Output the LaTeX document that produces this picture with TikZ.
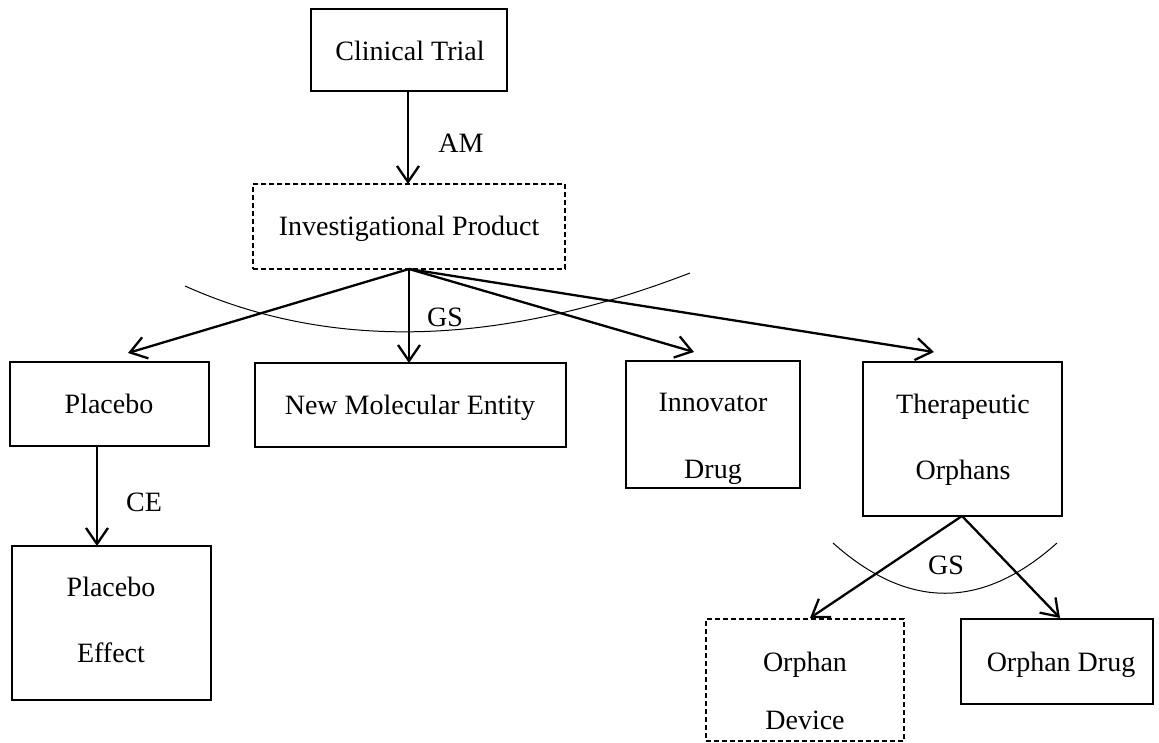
\documentclass[tikz,border=0pt]{standalone}
\usepackage{fontspec}
\setmainfont{Liberation Serif}
\usetikzlibrary{arrows.meta,fit}
\begin{document}
\begin{tikzpicture}[x=1pt,y=-1pt,
  box/.style={draw, line width=1.1pt, inner sep=0pt},
  dbox/.style={box, dash pattern=on 5pt off 3pt},
  txt/.style={anchor=base, inner sep=0pt, font=\fontsize{28}{34}\selectfont},
  link/.style={line width=2.3pt, -{Straight Barb[length=16pt,width=22pt]}},
  arcline/.style={line width=1pt}]
\useasboundingbox (0,0) rectangle (1159,742);

% boxes
\node[box,  fit={(311,9) (507,91)}]    (ct)  {};
\node[dbox, fit={(253,184) (565,269)}] (ip)  {};
\node[box,  fit={(10,362) (209,446)}]  (pl)  {};
\node[box,  fit={(255,363) (566,447)}] (nme) {};
\node[box,  fit={(626,361) (800,488)}] (inn) {};
\node[box,  fit={(863,362) (1062,516)}] (tho) {};
\node[box,  fit={(12,546) (211,700)}]  (pe)  {};
\node[dbox, fit={(706,619) (904,741)}] (od)  {};
\node[box,  fit={(961,619) (1153,704)}] (odr) {};

% box texts
\node[txt] (ct-t)   at (410,60)  {Clinical Trial};
\node[txt] (ip-t)   at (409,235) {Investigational Product};
\node[txt] (pl-t)   at (109,413) {Placebo};
\node[txt] (nme-t)  at (410,414) {New Molecular Entity};
\node[txt] (inn-t1) at (713,411) {Innovator};
\node[txt] (inn-t2) at (713,478) {Drug};
\node[txt] (tho-t1) at (963,413) {Therapeutic};
\node[txt] (tho-t2) at (963,479) {Orphans};
\node[txt] (pe-t1)  at (111,596) {Placebo};
\node[txt] (pe-t2)  at (111,662) {Effect};
\node[txt] (od-t1)  at (805,671) {Orphan};
\node[txt] (od-t2)  at (805,729) {Device};
\node[txt] (odr-t)  at (1061,671) {Orphan Drug};

% connector end points
\coordinate (ct-out)  at (408,91);
\coordinate (ip-in)   at (408,184);
\coordinate (ip-out)  at (409,269);
\coordinate (pl-in)   at (128,353);
\coordinate (nme-in)  at (409,363);
\coordinate (inn-in)  at (694,352);
\coordinate (tho-in)  at (934,352);
\coordinate (pl-out)  at (97,446);
\coordinate (pe-in)   at (97,546);
\coordinate (tho-out) at (962,516);
\coordinate (od-in)   at (810,618);
\coordinate (odr-in)  at (1060,618);

% connectors
\draw[link] (ct-out) -- (ip-in);
\draw[link] (ip-out) -- (pl-in);
\draw[link] (ip-out) -- (nme-in);
\draw[link] (ip-out) -- (inn-in);
\draw[link] (ip-out) -- (tho-in);
\draw[link] (pl-out) -- (pe-in);
\draw[link] (tho-out) -- (od-in);
\draw[link] (tho-out) -- (odr-in);

% generalisation arcs
\draw[arcline] (185,286) .. controls (330,351) and (498,347) .. (690,273);
\draw[arcline] (833,543) .. controls (908,610) and (982,610) .. (1057,543);

% connector labels
\node[txt] (am)  at (461,152) {AM};
\node[txt] (gs1) at (445,326) {GS};
\node[txt] (ce)  at (144,511) {CE};
\node[txt] (gs2) at (946,574) {GS};
\end{tikzpicture}
\end{document}
